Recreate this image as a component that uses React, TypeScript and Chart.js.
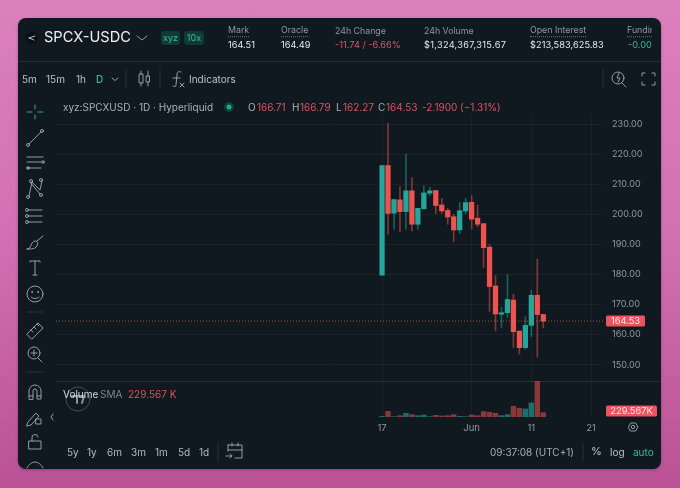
import React, { useEffect, useRef } from "react";
import { Chart, registerables } from "chart.js";

Chart.register(...registerables);

const dayIndex = [0,1,2,3,4,5,6,7,8,9,10,11,12,13,14,15,16,17,18,19,20,21,22,23,24,25,26,27];
const opens = [179.8,216.2,200.4,204.8,200.9,207.8,196.7,201.8,207.0,207.9,203.1,201.3,199.2,194.8,201.1,204.0,198.7,196.9,189.1,176.2,166.8,167.3,171.5,161.2,155.7,163.1,173.1,166.71];
const closes = [216.2,200.3,204.9,200.9,207.8,196.7,202.0,207.1,207.8,202.9,201.1,199.1,194.8,201.2,203.9,198.4,196.7,188.9,176.0,166.9,167.3,171.7,161.0,155.7,163.1,173.1,166.7,164.53];
const highs = [216.2,230.2,204.9,209.2,220.0,212.2,202.0,209.5,209.0,207.9,205.3,202.0,200.0,203.9,205.3,206.2,203.1,196.9,190.0,179.6,169.1,180.0,173.5,161.2,166.0,174.8,185.1,166.79];
const lows = [179.8,193.4,195.1,194.2,195.1,194.5,195.1,201.8,206.2,200.2,200.3,196.7,190.9,193.6,200.2,195.1,195.9,182.3,167.7,161.3,162.4,165.7,155.8,153.6,155.1,159.4,152.5,162.27];
const volumesK = [25,215,13,50,140,90,50,75,13,64,38,50,90,25,13,76,50,204,178,140,50,90,408,332,306,535,1351,165];
const xTickIndex = [0,15,25,35];
const xTickLabels = ["17","Jun","11","21"];
const yTickValues = [230,220,210,200,190,180,170,160,150];
const lastPrice = 164.53;
const volumeSmaK = 229.567;

const UP = "#26a69a";
const DOWN = "#ef5350";
const TXT = "#e6eaec";
const MUTED = "#8f989e";
const TEAL = "#3fb5a0";
const RED = "#d9565f";
const FONT = "Inter, sans-serif";

function T(p: { x: number; y: number; s?: number; c?: string; w?: number; children: any; u?: boolean; clip?: number; ls?: number }) {
  return (
    <div style={{ position: "absolute", left: p.x, top: p.y, transform: "translateY(-50%)", fontSize: p.s ?? 10, color: p.c ?? TXT, fontWeight: p.w ?? 400, whiteSpace: "nowrap", lineHeight: 1.2, borderBottom: p.u ? "1px dotted #6d767c" : undefined, width: p.clip, overflow: p.clip ? "hidden" : undefined, letterSpacing: p.ls }}>
      {p.children}
    </div>
  );
}

function Icons() {
  const st = { fill: "none", stroke: "#a4abb0", strokeWidth: 0.9, strokeLinecap: "round" as const, strokeLinejoin: "round" as const };
  return (
    <svg width={680} height={488} style={{ position: "absolute", left: 0, top: 0 }}>
      <circle cx="32" cy="38" r="6" fill="#0a0f12" />
      <g {...st}>
        <path d="M29 38l6-2M29 38l5 2" stroke="#ccd" />
        <path d="M137 36l5 4 5-4" />
        <path d="M112 78l3 2.500 3-2.500" />
        <path d="M126 70v18M160 70v18M603 70v18M583 444v17M218 444v17" stroke="#2c363c" />
        <rect x="139.500" y="74" width="3.500" height="9" /><path d="M141 71v3M141 83v3" />
        <rect x="146.500" y="76" width="3" height="6" /><path d="M148 71v5M148 82v4" />
        <path d="M181 72c-3-1-4 0-4 3l-1 10c0 2-2 2-3 1M173 78h7M180 83l4 4M184 83l-4 4" />
        <circle cx="618" cy="78" r="6" /><path d="M622 83l4 4M619 73l-2 5h3l-2 4" />
        <path d="M642 76v-3h3M652 73h3v3M655 82v3h-3M645 85h-3v-3" />
        <path d="M35 105v4M35 115v4M27 112h5M38 112h5" stroke={TEAL} />
        <circle cx="28" cy="145" r="1.500" /><circle cx="42" cy="131" r="1.500" /><path d="M29 144l12-12" />
        <path d="M27 157h16M27 162h14M27 168h14" /><circle cx="43" cy="162" r="1.300" /><circle cx="28" cy="168" r="1.300" />
        <path d="M29 196l3-14 8 8 2-9M30 182l10 12" /><circle cx="28" cy="197" r="1.500" /><circle cx="31" cy="181" r="1.500" /><circle cx="41" cy="180" r="1.500" /><circle cx="41" cy="195" r="1.500" />
        <path d="M29 210h13M29 216h13M29 222h13" /><circle cx="27" cy="210" r="1.500" /><circle cx="27" cy="216" r="1.500" /><circle cx="27" cy="222" r="1.500" />
        <path d="M27 249c5 0 3-7 8-8 4 0 3 5 0 7-2 1-5 1-8 1zM37 241l6-5" />
        <path d="M30 262v-1h10v1M35 261v14M33 275h4" />
        <circle cx="35" cy="294" r="8" /><circle cx="32" cy="292" r=".5" /><circle cx="38" cy="292" r=".5" /><path d="M31 297c2 2 6 2 8 0" />
        <path d="M27 312h16M27 372h16" stroke="#2c363c" />
        <path d="M27 334l11-11 5 5-11 11zM31 330l2 2M34 327l2 2M37 324l2 2" />
        <circle cx="34" cy="353" r="6" /><path d="M38 358l4 4M34 350v6M31 353h6" />
        <path d="M29 399v-8a6 6 0 0 1 12 0v8h-4v-8a2 2 0 0 0-4 0v8zM29 396h4M37 396h4" />
        <path d="M28 422l8-9 3 3-8 9-4 1zM36 419h5v5h-5z" />
        <path d="M29 441h12v8H29zM32 441v-3a3 3 0 0 1 6-1" />
        <path d="M27 468c4-8 12-8 16 0" />
        <path d="M53 414l-2 3 2 3" />
        <circle cx="78" cy="399" r="12" stroke="#4a5358" />
        <path d="M72 396h5v7M79 396h5l-2 7" stroke="#8b9397" strokeWidth="2" />
        <path d="M228 445h14v13h-7M228 445v6M232 443v3M238 443v3M228 450h14M226 456h6l-2-2M232 456l-2 2" />
        <path d="M628.500 427l2.200-4h5l2.200 4-2.200 4h-5z" /><circle cx="633" cy="427" r="1.700" />
      </g>
      <circle cx="229" cy="107" r="5" fill="#0f3d37" />
      <circle cx="229" cy="107" r="2.500" fill="#26a69a" />
      <path d="M18 61.500h643M56 381.500h605" stroke="#232d33" />
    </svg>
  );
}

export default function App() {
  const ref = useRef<HTMLCanvasElement>(null);
  useEffect(() => {
    const xMin = -54.6;
    const xMax = 37.0;
    const isUp = (i: number) => closes[i] >= opens[i];
    const badge = (ctx: CanvasRenderingContext2D, y: number, w: number, text: string) => {
      ctx.save();
      ctx.fillStyle = "#ee5360";
      ctx.beginPath();
      ctx.roundRect(606, y - 5.5, w, 11, 1.5);
      ctx.fill();
      ctx.fillStyle = "#fbe9ea";
      ctx.font = `9.3px ${FONT}`;
      ctx.textAlign = "center";
      ctx.textBaseline = "middle";
      ctx.fillText(text, 606 + w / 2, y + 0.5);
      ctx.restore();
    };
    const chart = new Chart(ref.current!, {
      type: "bar",
      data: {
        datasets: [
          {
            label: "Volume", yAxisID: "y1", grouped: false, barThickness: 4.8,
            data: dayIndex.map((d) => ({ x: d, y: volumesK[d] })),
            backgroundColor: dayIndex.map((d) => (isUp(d) ? "rgba(38,166,154,0.6)" : "rgba(239,83,80,0.55)")),
            order: 3,
          },
          {
            label: "Wick", yAxisID: "y", grouped: false, barThickness: 1,
            data: dayIndex.map((d) => ({ x: d, y: [lows[d], highs[d]] })),
            backgroundColor: dayIndex.map((d) => (isUp(d) ? "rgba(38,166,154,0.5)" : "rgba(239,83,80,0.5)")),
            order: 2,
          },
          {
            label: "Body", yAxisID: "y", grouped: false, barThickness: 4.6,
            data: dayIndex.map((d) => ({ x: d, y: [opens[d], closes[d]] })),
            backgroundColor: dayIndex.map((d) => (isUp(d) ? UP : DOWN)),
            order: 1,
          },
          {
            type: "line", label: "Last", yAxisID: "y",
            data: [{ x: xMin, y: lastPrice }, { x: xMax, y: lastPrice }],
            borderColor: "rgba(239,130,90,0.6)", borderWidth: 1, borderDash: [1, 2], pointRadius: 0,
            order: 0,
          },
        ] as any,
      },
      options: {
        animation: false,
        responsive: false,
        layout: { padding: { left: 56, top: 116, right: 0, bottom: 0 } },
        plugins: { legend: { display: false }, tooltip: { enabled: false } },
        scales: {
          x: {
            type: "linear", min: xMin, max: xMax, offset: false,
            afterBuildTicks: (s: any) => { s.ticks = xTickIndex.map((v) => ({ value: v })); },
            afterFit: (s: any) => { s.height = 71; },
            ticks: {
              autoSkip: false, maxRotation: 0, padding: 5, color: MUTED, font: { family: FONT, size: 9.5 },
              callback: (v: any) => xTickLabels[xTickIndex.indexOf(Number(v))] ?? "",
            },
            grid: { color: "rgba(255,255,255,0.045)", drawTicks: false, offset: false },
            border: { display: false },
          },
          y: {
            type: "linear", position: "right", min: 132.66, max: 232.66,
            afterBuildTicks: (s: any) => { s.ticks = yTickValues.map((v) => ({ value: v })); },
            afterFit: (s: any) => { s.width = 77; },
            ticks: { padding: 9, color: MUTED, font: { family: FONT, size: 9.1 }, callback: (v: any) => Number(v).toFixed(2) },
            grid: { color: "rgba(255,255,255,0.045)", drawTicks: false },
            border: { display: false },
          },
          y1: { type: "linear", display: false, min: 0, max: 11393 },
        },
      } as any,
      plugins: [
        {
          id: "badges",
          afterDraw: (c: any) => {
            badge(c.ctx, c.scales.y.getPixelForValue(lastPrice), 39, lastPrice.toFixed(2));
            badge(c.ctx, c.scales.y1.getPixelForValue(volumeSmaK), 51, volumeSmaK.toFixed(3) + "K");
          },
        },
      ],
    });
    return () => chart.destroy();
  }, []);

  return (
    <div style={{ position: "absolute", left: 0, top: 0, width: 680, height: 488, overflow: "hidden", fontFamily: FONT, background: "linear-gradient(180deg,#dc80bc 0%,#d272b4 45%,#ba5295 100%)", filter: "blur(0.3px)" }}>
      <div style={{ position: "absolute", left: 18, top: 18, width: 643, height: 451, borderRadius: 8, background: "#10191f", overflow: "hidden", boxShadow: "0 1px 3px rgba(90,20,70,0.4)" }} />
      <Icons />
      <canvas ref={ref} width={680} height={488} style={{ position: "absolute", left: 0, top: 0, width: 680, height: 488 }} />

      <T x={44} y={38} s={14.6} c="#eef1f2">SPCX-USDC</T>
      <div style={{ position: "absolute", left: 161, top: 31, width: 19, height: 14, background: "#0f3a36", borderRadius: 3, color: TEAL, fontSize: 9, textAlign: "center", lineHeight: "14px" }}>xyz</div>
      <div style={{ position: "absolute", left: 184, top: 31, width: 20, height: 14, background: "#0f3a36", borderRadius: 3, color: TEAL, fontSize: 9, textAlign: "center", lineHeight: "14px" }}>10x</div>

      <T x={228} y={31} s={8.8} c={MUTED} u>Mark</T>
      <T x={228} y={45} s={9.2}>164.51</T>
      <T x={281} y={31} s={8.8} c={MUTED} u>Oracle</T>
      <T x={281} y={45} s={9.2}>164.49</T>
      <T x={335} y={31} s={8.8} c={MUTED}>24h Change</T>
      <T x={335} y={45} s={9.2} c="#d9566b">-11.74 / -6.66%</T>
      <T x={424} y={31} s={8.8} c={MUTED}>24h Volume</T>
      <T x={424} y={45} s={9.2} ls={0.3}>$1,324,367,315.67</T>
      <T x={530} y={31} s={8.8} c={MUTED} u>Open Interest</T>
      <T x={530} y={45} s={9.2} ls={0.07}>$213,583,625.83</T>
      <T x={627} y={31} s={8.8} c={MUTED} u clip={25}>Funding</T>
      <T x={628} y={45} s={9.2} c={TEAL}>-0.00</T>

      <T x={22} y={79} s={10} c="#bcc2c6">5m</T>
      <T x={46} y={79} s={10} c="#bcc2c6">15m</T>
      <T x={76} y={79} s={10} c="#bcc2c6">1h</T>
      <T x={96} y={79} s={10} c={TEAL} w={500}>D</T>
      <T x={189} y={79} s={10} c="#bcc2c6">Indicators</T>

      <T x={63} y={107} s={10} c="#aab1b6">xyz:SPCXUSD · 1D · Hyperliquid</T>
      <T x={248} y={107} s={10} c="#aab1b6">O</T>
      <T x={257} y={107} s={10} c={RED}>166.71</T>
      <T x={292} y={107} s={10} c="#aab1b6">H</T>
      <T x={300} y={107} s={10} c={RED}>166.79</T>
      <T x={336} y={107} s={10} c="#aab1b6">L</T>
      <T x={343} y={107} s={10} c={RED}>162.27</T>
      <T x={378} y={107} s={10} c="#aab1b6">C</T>
      <T x={386} y={107} s={10} c={RED}>164.53</T>
      <T x={422} y={107} s={10} c={RED}>-2.1900 (−1.31%)</T>

      <T x={63} y={394} s={10} c="#d5dadc">Volume</T>
      <T x={100} y={394} s={10} c="#7d868c">SMA</T>
      <T x={128} y={394} s={10} c={RED}>229.567 K</T>

      {[["5y",67],["1y",87],["6m",107],["3m",131],["1m",155],["5d",178],["1d",199]].map(([t,x]) => (
        <T key={t as string} x={x as number} y={452} s={10} c="#b5bbbf">{t}</T>
      ))}
      <T x={490} y={452} s={10} c="#a9b0b4">09:37:08 (UTC+1)</T>
      <T x={591} y={452} s={11} c="#bcc2c6">%</T>
      <T x={610} y={452} s={10} c="#bcc2c6">log</T>
      <T x={633} y={452} s={10} c={TEAL}>auto</T>
    </div>
  );
}
